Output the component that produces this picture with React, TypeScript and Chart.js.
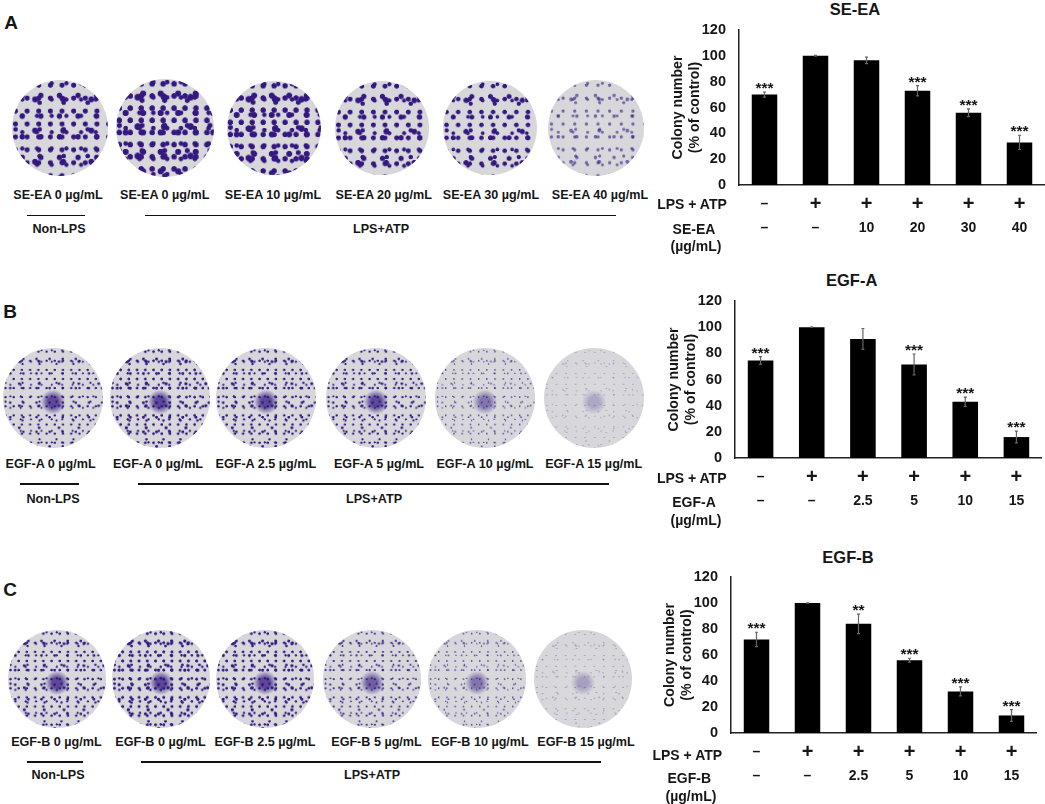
import { useEffect, useRef } from "react"
import { Chart, registerables } from "chart.js"

Chart.register(...registerables)

const FONT = "'Liberation Sans', Arial, sans-serif"
const INK = "#161616"

const yTicks = [0, 20, 40, 60, 80, 100, 120]
const lpsRow = ["–", "+", "+", "+", "+", "+"]

const seEaDoses = ["–", "–", "10", "20", "30", "40"]
const seEaValues = [70, 100, 96.5, 73, 56, 33]
const seEaErrors = [2, 0.3, 2.5, 4, 3, 5.5]
const seEaStars = ["***", "", "", "***", "***", "***"]

const egfADoses = ["–", "–", "2.5", "5", "10", "15"]
const egfAValues = [74.5, 100, 91, 71.5, 43, 16]
const egfAErrors = [3, 0.2, 8, 8, 3.5, 4.5]
const egfAStars = ["***", "", "", "***", "***", "***"]

const egfBDoses = ["–", "–", "2.5", "5", "10", "15"]
const egfBValues = [72, 100, 84, 56, 32, 13.5]
const egfBErrors = [5.5, 0.2, 7.5, 1.5, 3.5, 4.5]
const egfBStars = ["***", "", "**", "***", "***", "***"]

interface BarPanelProps {
  doses: string[]
  values: number[]
  errors: number[]
  stars: string[]
  axisX: number
  plotTop: number
  plotBottom: number
  band: number
}

function BarPanel({ doses, values, errors, stars, axisX, plotTop, plotBottom, band }: BarPanelProps) {
  const chartRef = useRef<HTMLCanvasElement>(null)

  useEffect(() => {
    if (!chartRef.current) return
    const chart = new Chart(chartRef.current, {
      type: "bar",
      data: {
        labels: doses,
        datasets: [
          {
            data: values,
            backgroundColor: "#000",
            barPercentage: 0.5,
            categoryPercentage: 1,
          },
        ],
      },
      options: {
        animation: false,
        responsive: false,
        devicePixelRatio: 1,
        layout: { padding: { top: 10 } },
        plugins: { legend: { display: false }, tooltip: { enabled: false } },
        scales: {
          x: {
            grid: { display: false, drawTicks: false },
            border: { color: "#222", width: 1.5 },
            ticks: {
              color: INK,
              font: { family: FONT, size: 14, weight: "bold" },
              padding: 35,
              maxRotation: 0,
              autoSkip: false,
            },
            afterFit: (scale: any) => {
              scale.height = 60
              scale.paddingLeft = 0
              scale.paddingRight = 0
            },
          },
          y: {
            min: 0,
            max: 120,
            grid: { display: false, drawTicks: false },
            border: { color: "#222", width: 1.5 },
            afterBuildTicks: (scale: any) => {
              scale.ticks = yTicks.map((value) => ({ value }))
            },
            ticks: {
              color: INK,
              font: { family: FONT, size: 14.5, weight: "bold" },
              padding: 13,
            },
            title: {
              display: true,
              text: ["Colony number", "(% of control)"],
              color: INK,
              font: { family: FONT, size: 14.2, weight: "bold" },
              padding: { top: 11, bottom: 0 },
            },
            afterFit: (scale: any) => {
              scale.width = 80
              scale.paddingTop = 0
              scale.paddingBottom = 0
            },
          },
        },
      },
      plugins: [
        {
          id: "panelMarks",
          afterDatasetsDraw(c: any) {
            const { ctx, scales } = c
            ctx.save()
            values.forEach((value, i) => {
              const x = scales.x.getPixelForValue(i)
              const top = scales.y.getPixelForValue(value + errors[i])
              const low = scales.y.getPixelForValue(value - errors[i])
              // error bar
              ctx.strokeStyle = "#666"
              ctx.lineWidth = 1.2
              ctx.beginPath()
              ctx.moveTo(x, top)
              ctx.lineTo(x, low)
              ctx.moveTo(x - 1.5, top)
              ctx.lineTo(x + 1.5, top)
              ctx.moveTo(x - 1.5, low)
              ctx.lineTo(x + 1.5, low)
              ctx.stroke()
              // significance stars
              ctx.fillStyle = INK
              ctx.textAlign = "center"
              ctx.textBaseline = "alphabetic"
              ctx.font = `bold 15.5px ${FONT}`
              if (stars[i]) ctx.fillText(stars[i], x, top + 1)
              // LPS + ATP row
              const mark = lpsRow[i]
              ctx.textBaseline = "middle"
              ctx.font = `bold ${mark === "+" ? 20 : 14}px ${FONT}`
              ctx.fillText(mark, x, scales.y.bottom + 19)
            })
            ctx.restore()
          },
        },
      ],
    } as any)

    return () => {
      chart.destroy()
    }
  }, [])

  return (
    <canvas
      ref={chartRef}
      width={80 + band * 6}
      height={plotBottom - plotTop + 70}
      style={{ position: "absolute", left: axisX - 80, top: plotTop - 10 }}
    />
  )
}

function Label({ x, y, size = 12.6, children }: { x: number; y: number; size?: number; children: any }) {
  return (
    <div
      style={{
        position: "absolute",
        left: x,
        top: y,
        transform: "translate(-50%, -50%)",
        whiteSpace: "nowrap",
        fontFamily: FONT,
        fontWeight: "bold",
        fontSize: size,
        color: INK,
      }}
    >
      {children}
    </div>
  )
}

function Rule({ x1, x2, y }: { x1: number; x2: number; y: number }) {
  return <div style={{ position: "absolute", left: x1, top: y - 0.75, width: x2 - x1, height: 1.5, background: "#111" }} />
}

// Stand-in for the plate photo: colony texture, size and strength read per plate
function Dish({ x, y, r, tile, dot, alpha, cluster }: { x: number; y: number; r: number; tile: number; dot: number; alpha: number; cluster: number }) {
  const colour = `rgba(52, 24, 128, ${alpha})`
  const layer = (px: number, py: number, d: number) =>
    `radial-gradient(circle at ${px}% ${py}%, ${colour} ${d}px, transparent ${d + 0.7}px)`
  const tiles = [1.37, 1.73, 2.19, 2.83, 3.31]
  return (
    <div
      style={{
        position: "absolute",
        left: x - r,
        top: y - r,
        width: r * 2,
        height: r * 2,
        borderRadius: "50%",
        backgroundImage: [
          `radial-gradient(circle at 50% 54%, rgba(52, 24, 128, ${cluster * alpha}) 0%, rgba(52, 24, 128, ${cluster * alpha}) 7%, transparent 17%)`,
          layer(30, 40, dot),
          layer(70, 20, dot * 0.8),
          layer(55, 75, dot * 1.1),
          layer(15, 85, dot * 0.9),
          layer(82, 62, dot * 1.2),
          "radial-gradient(circle, #dadadd 0%, #d6d6da 88%, #e8e8ea 100%)",
        ].join(", "),
        backgroundSize: [
          "100% 100%",
          ...tiles.map((t) => `${tile * t}px ${tile * t * 1.11}px`),
          "100% 100%",
        ].join(", "),
      }}
    />
  )
}

const seEaDishes = [
  { x: 60, r: 48, tile: 8.5, dot: 2.2, alpha: 1, label: 58, text: "SE-EA 0 µg/mL" },
  { x: 165, r: 49, tile: 8, dot: 2.5, alpha: 1, label: 164.7, text: "SE-EA 0 µg/mL" },
  { x: 274, r: 47, tile: 8, dot: 2.4, alpha: 1, label: 273, text: "SE-EA 10 µg/mL" },
  { x: 382, r: 47, tile: 8.5, dot: 2.1, alpha: 1, label: 383.7, text: "SE-EA 20 µg/mL" },
  { x: 490, r: 47, tile: 8.5, dot: 1.9, alpha: 1, label: 491, text: "SE-EA 30 µg/mL" },
  { x: 596, r: 48, tile: 8.5, dot: 1.3, alpha: 0.6, label: 600, text: "SE-EA 40 µg/mL" },
]
const egfADishes = [
  { x: 53, r: 50, tile: 6, dot: 0.8, alpha: 1, label: 50.6, text: "EGF-A 0 µg/mL" },
  { x: 160, r: 50, tile: 6, dot: 1, alpha: 1, label: 158, text: "EGF-A 0 µg/mL" },
  { x: 266, r: 50, tile: 6, dot: 0.9, alpha: 1, label: 265.8, text: "EGF-A 2.5 µg/mL" },
  { x: 375.5, r: 50, tile: 6, dot: 0.8, alpha: 1, label: 379, text: "EGF-A 5 µg/mL" },
  { x: 485, r: 50, tile: 6, dot: 0.5, alpha: 0.7, label: 485, text: "EGF-A 10 µg/mL" },
  { x: 594, r: 50, tile: 7, dot: 0.3, alpha: 0.35, label: 593.7, text: "EGF-A 15 µg/mL" },
]
const egfBDishes = [
  { x: 57, r: 49, tile: 6, dot: 0.9, alpha: 1, label: 56.4, text: "EGF-B 0 µg/mL" },
  { x: 161, r: 49, tile: 6, dot: 1.1, alpha: 1, label: 160.5, text: "EGF-B 0 µg/mL" },
  { x: 265, r: 49, tile: 6, dot: 1, alpha: 1, label: 265, text: "EGF-B 2.5 µg/mL" },
  { x: 372, r: 49, tile: 6, dot: 0.7, alpha: 0.85, label: 376.5, text: "EGF-B 5 µg/mL" },
  { x: 477, r: 49, tile: 6, dot: 0.5, alpha: 0.7, label: 480, text: "EGF-B 10 µg/mL" },
  { x: 583, r: 49, tile: 7, dot: 0.3, alpha: 0.4, label: 586, text: "EGF-B 15 µg/mL" },
]

const rows = [
  {
    letter: "A", letterX: 11, letterY: 22.7, dishY: 128, labelY: 194.7, dishes: seEaDishes, cluster: 0,
    ruleY: 215.7, nonRule: [27, 85], lpsRule: [145, 616], captionY: 228.7, nonX: 59, lpsX: 381,
  },
  {
    letter: "B", letterX: 10, letterY: 311.7, dishY: 398, labelY: 464, dishes: egfADishes, cluster: 0.75,
    ruleY: 484, nonRule: [20, 79], lpsRule: [137.6, 609.5], captionY: 498.7, nonX: 53, lpsX: 374,
  },
  {
    letter: "C", letterX: 10, letterY: 589.7, dishY: 679, labelY: 741.7, dishes: egfBDishes, cluster: 0.75,
    ruleY: 762, nonRule: [26.5, 83], lpsRule: [141, 601], captionY: 775, nonX: 58, lpsX: 372,
  },
]

const panels = [
  {
    title: "SE-EA", titleX: 855, titleY: 9, doses: seEaDoses, values: seEaValues, errors: seEaErrors, stars: seEaStars,
    axisX: 739, plotTop: 30, plotBottom: 185, band: 51, lpsX: 692, lpsY: 204, doseX: 694, doseY: 229, unitX: 696, unitY: 246,
  },
  {
    title: "EGF-A", titleX: 851.7, titleY: 280, doses: egfADoses, values: egfAValues, errors: egfAErrors, stars: egfAStars,
    axisX: 735, plotTop: 301, plotBottom: 458, band: 51.2, lpsX: 691.7, lpsY: 478, doseX: 694, doseY: 501.7, unitX: 696, unitY: 520,
  },
  {
    title: "EGF-B", titleX: 848, titleY: 556.7, doses: egfBDoses, values: egfBValues, errors: egfBErrors, stars: egfBStars,
    axisX: 731, plotTop: 577, plotBottom: 733, band: 51.1, lpsX: 687.3, lpsY: 754.7, doseX: 689.3, doseY: 778.3, unitX: 691, unitY: 795.7,
  },
]

export default function App() {
  return (
    <div style={{ position: "absolute", left: 0, top: 0, width: 1045, height: 804, background: "#fff", overflow: "hidden" }}>
      {rows.map((row) => (
        <div key={row.letter}>
          <Label x={row.letterX} y={row.letterY} size={19}>{row.letter}</Label>
          {row.dishes.map((d) => (
            <Dish key={d.x} x={d.x} y={row.dishY} r={d.r} tile={d.tile} dot={d.dot} alpha={d.alpha} cluster={row.cluster} />
          ))}
          {row.dishes.map((d) => (
            <Label key={d.label} x={d.label} y={row.labelY}>{d.text}</Label>
          ))}
          <Rule x1={row.nonRule[0]} x2={row.nonRule[1]} y={row.ruleY} />
          <Rule x1={row.lpsRule[0]} x2={row.lpsRule[1]} y={row.ruleY} />
          <Label x={row.nonX} y={row.captionY}>Non-LPS</Label>
          <Label x={row.lpsX} y={row.captionY}>LPS+ATP</Label>
        </div>
      ))}
      {panels.map((p) => (
        <div key={p.title}>
          <BarPanel
            doses={p.doses}
            values={p.values}
            errors={p.errors}
            stars={p.stars}
            axisX={p.axisX}
            plotTop={p.plotTop}
            plotBottom={p.plotBottom}
            band={p.band}
          />
          <Label x={p.titleX} y={p.titleY} size={16.5}>{p.title}</Label>
          <Label x={p.lpsX} y={p.lpsY} size={14}>LPS + ATP</Label>
          <Label x={p.doseX} y={p.doseY} size={14}>{p.title}</Label>
          <Label x={p.unitX} y={p.unitY} size={14}>(µg/mL)</Label>
        </div>
      ))}
    </div>
  )
}
